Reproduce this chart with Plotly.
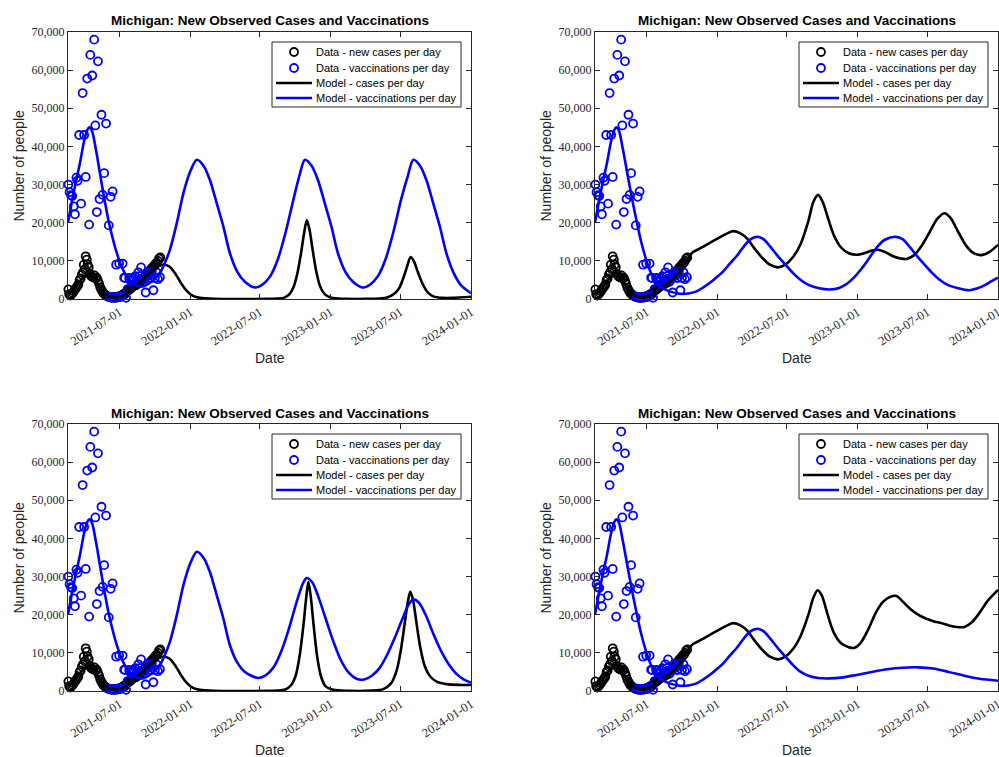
import pandas as pd
import plotly.graph_objects as go

# ---------------- data ----------------
START = "2021-02-17"
X_END = "2024-01-01"
X_TICKS = ["2021-07-01", "2022-01-01", "2022-07-01", "2023-01-01", "2023-07-01", "2024-01-01"]
Y_TICKS = [0, 10000, 20000, 30000, 40000, 50000, 60000, 70000]
TITLE = "Michigan: New Observed Cases and Vaccinations"
LEGEND_LABELS = ["Data - new cases per day", "Data - vaccinations per day",
                 "Model - cases per day", "Model - vaccinations per day"]

# observed data (days since START, thousands of people)
CASE_DAY = [1, 3, 6, 9, 12, 15, 18, 21, 24, 27, 30, 33, 36, 39, 41, 44, 46, 49, 51, 54, 57, 60, 63, 66, 69,
            72, 75, 78, 81, 84, 87, 90, 93, 96, 99, 102, 105, 108, 111, 114, 117, 120, 123, 126, 129, 132,
            135, 138, 141, 144, 147, 150, 153, 156, 159, 162, 165, 168, 171, 174, 177, 180, 183, 186, 189,
            192, 195, 198, 201, 204, 207, 210, 213, 216, 219, 222, 225, 228, 231, 234, 237, 240]
CASE_K = [2.5, 1.3, 0.9, 1.2, 1.6, 2.0, 2.5, 2.9, 3.3, 3.8, 5.0, 5.4, 6.4, 7.0, 9.0, 7.8, 11.2, 10.3, 9.0,
          8.3, 6.6, 6.0, 5.8, 5.6, 6.2, 5.4, 5.5, 4.8, 4.0, 3.0, 2.4, 1.9, 1.4, 1.2, 0.9, 0.7, 0.6, 0.5,
          0.4, 0.3, 0.5, 0.4, 0.3, 0.5, 0.4, 0.6, 0.8, 0.7, 1.0, 1.3, 1.2, 1.6, 2.0, 2.2, 2.5, 2.6, 3.0,
          3.2, 3.4, 3.8, 3.6, 4.0, 4.4, 4.2, 4.8, 5.0, 5.4, 5.6, 6.0, 6.3, 6.9, 7.1, 7.5, 7.8, 8.2, 8.5,
          8.8, 9.3, 9.5, 10.0, 10.6, 10.9]

VAC_DAY = [1, 4, 8, 11, 15, 18, 22, 25, 29, 34, 38, 42, 46, 50, 55, 58, 63, 68, 71, 75, 78, 82, 87, 90,
           94, 99, 106, 108, 111, 113, 116, 119, 122, 125, 128, 131, 133, 136, 139, 142, 146, 148, 151,
           155, 159, 163, 167, 171, 175, 179, 183, 187, 190, 194, 198, 202, 206, 210, 214, 218, 222, 226,
           230, 234, 239]
VAC_K = [30.0, 28.0, 27.2, 27.0, 24.3, 22.2, 31.8, 31.0, 43.0, 25.0, 54.0, 43.0, 32.0, 57.8, 19.5, 64.0,
         58.6, 68.0, 45.5, 22.8, 62.3, 26.2, 48.3, 27.3, 33.0, 46.0, 19.3, 0.6, 26.8, 0.4, 28.2, 0.3, 0.5,
         9.0, 0.4, 0.6, 9.3, 0.5, 0.8, 9.3, 5.6, 5.5, 0.3, 2.6, 5.5, 4.8, 5.0, 5.5, 6.0, 5.0, 7.0, 6.0,
         8.3, 4.5, 5.2, 1.7, 6.8, 6.1, 5.5, 7.2, 2.3, 5.5, 7.0, 5.2, 5.7]

# model curves, one pair per panel (top-left, top-right, bottom-left, bottom-right)
TL_VAC_DAY = [0, 10, 20, 31, 42, 50, 55, 62, 72, 83, 95, 105, 116, 127, 140, 153, 166, 180, 195, 213,
              226, 239, 252, 265, 282, 300, 318, 335, 352, 369, 387, 404, 421, 440, 460, 486, 506, 526,
              546, 566, 586, 601, 616, 633, 650, 668, 685, 702, 721, 741, 766, 786, 806, 826, 846, 866,
              883, 898, 915, 932, 950, 967, 984, 1003, 1023, 1048]
TL_VAC_K = [20.0, 25.5, 30.5, 35.6, 41.5, 44.3, 45.0, 44.2, 39.5, 33.0, 26.0, 20.7, 16.0, 12.0, 8.3, 5.9,
            4.3, 3.5, 3.3, 4.2, 5.3, 6.8, 9.5, 12.9, 19.5, 27.7, 33.5, 36.5, 35.0, 31.2, 25.0, 19.0, 12.0,
            7.2, 4.5, 3.0, 3.8, 6.0, 10.5, 17.5, 26.0, 32.0, 36.5, 35.0, 31.2, 25.0, 19.0, 12.0, 7.2, 4.5,
            3.0, 3.8, 6.0, 10.5, 17.5, 26.0, 32.0, 36.5, 35.0, 31.2, 25.0, 19.0, 12.0, 6.8, 3.5, 1.5]
TL_CASE_DAY = [0, 15, 30, 45, 55, 65, 80, 95, 110, 125, 140, 160, 180, 200, 220, 235, 252, 265, 280, 295,
               310, 325, 343, 380, 450, 520, 545, 561, 576, 586, 596, 606, 614, 621, 628, 636, 646, 656,
               668, 685, 720, 780, 810, 830, 850, 862, 872, 882, 891, 900, 910, 922, 935, 950, 975, 1000,
               1048]
TL_CASE_K = [1.5, 2.5, 4.5, 6.3, 7.0, 5.8, 3.5, 1.5, 0.6, 0.4, 0.8, 2.0, 3.8, 5.8, 7.6, 8.6, 9.0, 8.4,
             6.5, 4.0, 2.0, 0.8, 0.3, 0.05, 0.0, 0.02, 0.1, 0.3, 1.3, 3.0, 6.5, 12.0, 17.3, 20.7, 18.2,
             13.0, 7.0, 3.2, 1.2, 0.3, 0.05, 0.03, 0.1, 0.4, 1.5, 3.0, 5.5, 8.6, 11.0, 9.8, 7.0, 4.0, 1.8,
             0.7, 0.3, 0.3, 0.6]

TR_VAC_DAY = [0, 10, 20, 31, 42, 50, 55, 62, 72, 83, 95, 108, 120, 134, 147, 160, 177, 194, 212, 229,
              246, 264, 281, 298, 315, 333, 350, 368, 385, 402, 420, 438, 455, 475, 495, 515, 535, 555,
              580, 610, 635, 655, 675, 695, 715, 735, 755, 782, 800, 817, 837, 857, 877, 897, 917, 942,
              974, 995, 1015, 1030, 1048]
TR_VAC_K = [20.0, 25.5, 30.5, 35.6, 41.5, 44.3, 45.0, 44.2, 39.5, 33.5, 27.0, 20.5, 15.0, 10.0, 6.5, 4.3,
            2.8, 2.0, 1.5, 1.3, 1.5, 2.0, 3.0, 4.2, 5.6, 7.2, 9.2, 11.2, 13.5, 15.5, 16.3, 15.7, 13.8,
            11.3, 9.0, 6.8, 5.0, 3.7, 2.9, 2.5, 2.9, 4.0, 5.8, 8.2, 11.0, 13.8, 15.6, 16.3, 15.7, 13.8,
            11.3, 9.0, 6.8, 5.0, 3.7, 2.9, 2.3, 2.8, 3.7, 4.6, 5.6]
TR_CASE_DAY = [0, 15, 30, 45, 55, 65, 80, 95, 110, 125, 140, 160, 180, 200, 220, 240, 255, 272, 295, 318,
               340, 359, 378, 396, 415, 435, 455, 476, 495, 515, 535, 555, 568, 580, 592, 605, 620, 640,
               660, 680, 700, 720, 736, 755, 775, 795, 810, 830, 850, 870, 890, 909, 925, 945, 965, 985,
               1005, 1025, 1048]
TR_CASE_K = [1.5, 2.5, 4.5, 6.3, 7.0, 5.8, 3.5, 1.5, 0.6, 0.4, 0.8, 1.8, 3.2, 5.0, 7.0, 10.5, 12.3, 13.2,
             14.5, 15.8, 17.0, 17.8, 17.2, 15.8, 13.2, 10.8, 9.0, 8.3, 9.0, 11.0, 14.5, 20.5, 25.5, 27.3,
             25.5, 21.5, 17.0, 13.5, 12.0, 11.6, 12.0, 12.7, 12.9, 12.3, 11.2, 10.6, 10.5, 11.5, 14.0,
             17.5, 21.0, 22.5, 21.2, 17.5, 14.0, 12.0, 11.5, 12.3, 14.2]

BL_VAC_DAY = TL_VAC_DAY[:33] + [440, 460, 494, 515, 535, 555, 575, 595, 610, 620, 635, 650, 670, 690, 710,
                                730, 750, 770, 790, 810, 830, 850, 870, 885, 897, 912, 930, 950, 970,
                                990, 1010, 1030, 1048]
BL_VAC_K = TL_VAC_K[:33] + [7.5, 5.0, 3.4, 4.2, 6.3, 10.5, 16.5, 23.5, 28.0, 29.6, 28.5, 25.0, 19.0, 13.0,
                            8.0, 4.8, 3.2, 3.0, 4.0, 6.0, 9.5, 14.0, 19.0, 22.5, 24.0, 23.2, 20.0, 15.0,
                            10.5, 7.0, 4.5, 3.0, 2.2]
BL_CASE_DAY = TL_CASE_DAY[:23] + [380, 450, 520, 545, 565, 580, 592, 602, 612, 619, 625, 631, 639, 648,
                                  658, 670, 690, 730, 790, 820, 840, 855, 866, 876, 884, 890, 897, 906,
                                  916, 928, 942, 960, 985, 1015, 1048]
BL_CASE_K = TL_CASE_K[:23] + [0.05, 0.0, 0.02, 0.1, 0.4, 1.5, 4.0, 9.0, 17.0, 24.0, 28.6, 25.0, 17.0, 9.0,
                              3.8, 1.2, 0.3, 0.05, 0.1, 0.5, 2.0, 5.5, 11.0, 18.0, 23.5, 26.0, 24.0, 18.0,
                              11.5, 6.5, 3.8, 2.4, 1.8, 1.6, 1.6]

BR_VAC_DAY = TR_VAC_DAY[:31] + [438, 455, 475, 495, 515, 535, 555, 580, 610, 640, 680, 720, 760, 800, 840,
                                880, 920, 960, 1000, 1048]
BR_VAC_K = TR_VAC_K[:31] + [15.7, 13.8, 11.3, 9.0, 6.8, 5.0, 4.0, 3.4, 3.3, 3.5, 4.2, 5.0, 5.7, 6.1, 6.2,
                            5.9, 5.0, 4.0, 3.2, 2.7]
BR_CASE_DAY = TR_CASE_DAY[:28] + [495, 515, 535, 555, 568, 579, 590, 605, 620, 640, 660, 674, 690, 710, 730,
                                  750, 770, 784, 800, 820, 840, 860, 880, 900, 920, 940, 961, 980, 1000,
                                  1020, 1048]
BR_CASE_K = TR_CASE_K[:28] + [9.0, 11.0, 14.5, 20.0, 24.5, 26.4, 25.0, 20.0, 15.5, 12.5, 11.5, 11.3, 12.5,
                              16.0, 20.5, 23.5, 24.8, 24.9, 23.5, 21.5, 20.0, 19.0, 18.3, 17.8, 17.2, 16.8,
                              16.8, 18.0, 20.5, 23.5, 26.5]

MODELS = [
    (TL_CASE_DAY, TL_CASE_K, TL_VAC_DAY, TL_VAC_K),
    (TR_CASE_DAY, TR_CASE_K, TR_VAC_DAY, TR_VAC_K),
    (BL_CASE_DAY, BL_CASE_K, BL_VAC_DAY, BL_VAC_K),
    (BR_CASE_DAY, BR_CASE_K, BR_VAC_DAY, BR_VAC_K),
]

# ---------------- layout geometry (pixels) ----------------
W, H = 999, 757
PANELS = [(68, 471, 32, 299), (595, 998, 32, 299), (68, 471, 424, 691), (595, 998, 424, 691)]
BLUE = "#0000FF"
BLACK = "#000000"
AXC = "#262626"
SANS = "Liberation Sans, Arial, sans-serif"
SERIF = "Liberation Serif, Times New Roman, serif"


def px(x):
    return x / W


def py(y):
    return 1 - y / H


def to_dates(days):
    return pd.Timestamp(START) + pd.to_timedelta(days, unit="D")


def thousands(vals):
    return [v * 1000 for v in vals]


fig = go.Figure()
layout = dict(width=W, height=H, margin=dict(l=0, r=0, t=0, b=0, pad=0, autoexpand=False),
              paper_bgcolor="white", plot_bgcolor="white", showlegend=False, template="none")
shapes = []
annotations = []

for i, ((L, R, T, B), (cd, ck, vd, vk)) in enumerate(zip(PANELS, MODELS)):
    n = "" if i == 0 else str(i + 1)
    xa, ya = "x" + n, "y" + n
    fig.add_trace(go.Scatter(x=to_dates(CASE_DAY), y=thousands(CASE_K), mode="markers", xaxis=xa, yaxis=ya,
                             marker=dict(symbol="circle-open", size=8, color=BLACK, line=dict(width=1.8)),
                             cliponaxis=False, name=LEGEND_LABELS[0]))
    fig.add_trace(go.Scatter(x=to_dates(VAC_DAY), y=thousands(VAC_K), mode="markers", xaxis=xa, yaxis=ya,
                             marker=dict(symbol="circle-open", size=8, color=BLUE, line=dict(width=1.8)),
                             cliponaxis=False, name=LEGEND_LABELS[1]))
    fig.add_trace(go.Scatter(x=to_dates(cd), y=thousands(ck), mode="lines", xaxis=xa, yaxis=ya,
                             line=dict(color=BLACK, width=2.6, shape="spline", smoothing=0.8),
                             name=LEGEND_LABELS[2]))
    fig.add_trace(go.Scatter(x=to_dates(vd), y=thousands(vk), mode="lines", xaxis=xa, yaxis=ya,
                             line=dict(color=BLUE, width=2.6, shape="spline", smoothing=0.8),
                             name=LEGEND_LABELS[3]))

    layout["xaxis" + n] = dict(domain=[px(L), px(R)], anchor=ya, type="date", range=[START, X_END],
                               tickvals=X_TICKS, ticktext=X_TICKS, tickangle=-33, ticks="inside", ticklen=5,
                               tickcolor=AXC, showline=True, linecolor=AXC, linewidth=1, mirror="ticks",
                               showgrid=False, zeroline=False, automargin=False, ticklabeloverflow="allow",
                               tickfont=dict(family=SERIF, size=12.5, color=AXC))
    layout["yaxis" + n] = dict(domain=[py(B), py(T)], anchor=xa, range=[0, 70000], tickvals=Y_TICKS,
                               tickformat=",d", ticks="inside", ticklen=5, tickcolor=AXC, showline=True,
                               linecolor=AXC, linewidth=1, mirror="ticks", showgrid=False, zeroline=False,
                               automargin=False, tickfont=dict(family=SERIF, size=12, color=AXC))

    # titles and axis labels
    annotations.append(dict(text="<b>" + TITLE + "</b>", x=px((L + R) / 2), y=py(T - 11), xref="paper",
                            yref="paper", showarrow=False, xanchor="center", yanchor="middle",
                            font=dict(family=SANS, size=13.5, color=BLACK)))
    annotations.append(dict(text="Number of people", x=px(L - 50), y=py((T + B) / 2), xref="paper",
                            yref="paper", showarrow=False, textangle=-90, xanchor="center",
                            yanchor="middle", font=dict(family=SANS, size=14, color=AXC)))
    annotations.append(dict(text="Date", x=px((L + R) / 2), y=py(B + 59), xref="paper", yref="paper",
                            showarrow=False, xanchor="center", yanchor="middle",
                            font=dict(family=SANS, size=14, color=AXC)))

    # legend box (drawn like MATLAB's)
    shapes.append(dict(type="rect", xref="paper", yref="paper", x0=px(L + 204), x1=px(L + 393),
                       y0=py(T + 10), y1=py(T + 75), line=dict(color=AXC, width=1), fillcolor="white",
                       layer="above"))
    rows = [T + 20, T + 36, T + 51, T + 66]
    for k, (lab, yy) in enumerate(zip(LEGEND_LABELS, rows)):
        col = BLACK if k in (0, 2) else BLUE
        if k < 2:
            shapes.append(dict(type="circle", xref="paper", yref="paper", x0=px(L + 222), x1=px(L + 230),
                               y0=py(yy + 4), y1=py(yy - 4), line=dict(color=col, width=1.8),
                               layer="above"))
        else:
            shapes.append(dict(type="line", xref="paper", yref="paper", x0=px(L + 208), x1=px(L + 244),
                               y0=py(yy), y1=py(yy), line=dict(color=col, width=2.6), layer="above"))
        annotations.append(dict(text=lab, x=px(L + 246), y=py(yy), xref="paper", yref="paper",
                                showarrow=False, xanchor="left", yanchor="middle",
                                font=dict(family=SANS, size=11, color=BLACK)))

layout["shapes"] = shapes
layout["annotations"] = annotations
fig.update_layout(**layout)
fig.write_html("out.html")
